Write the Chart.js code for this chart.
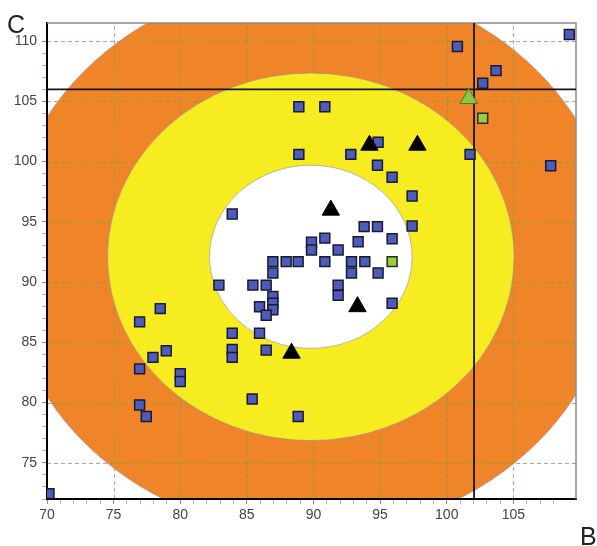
<!DOCTYPE html>
<html>
<head>
<meta charset="utf-8">
<script src="https://cdn.jsdelivr.net/npm/chart.js@4/dist/chart.umd.min.js"></script>
<style>
html,body{margin:0;padding:0;background:#ffffff;}
canvas{display:block;}
</style>
</head>
<body>
<canvas id="c" width="597" height="546"></canvas>
<script>
// ---- data ----
const blueX = [70.15,109.2,100.8,103.7,102.7,88.9,90.85,88.9,92.8,94.85,94.8,95.9,97.4,97.4,101.75,107.8,93.8,94.8,95.9,93.35,90.85,89.85,89.85,91.85,90.85,92.85,92.85,93.85,94.85,88.85,87.95,86.95,86.95,86.45,85.45,82.9,86.95,86.95,86.95,85.95,86.45,91.85,91.85,95.9,83.9,83.9,85.95,83.9,83.9,86.45,76.95,78.5,77.95,78.95,76.95,80.0,80.0,85.4,76.95,77.45,88.85];
const blueY = [72.45,110.55,109.55,107.55,106.5,104.55,104.55,100.6,100.6,101.6,99.7,98.7,97.15,94.65,100.6,99.65,94.6,94.6,93.6,93.35,93.65,93.3,92.66,92.66,91.7,91.7,90.75,91.7,90.75,91.7,91.7,91.7,90.75,89.75,89.75,89.75,88.8,88.25,87.7,87.95,87.25,89.75,88.9,88.25,95.65,85.75,85.75,84.4,83.75,84.35,86.7,87.8,83.75,84.3,82.8,82.4,81.75,80.3,79.8,78.85,78.85];
const greenSqX = [102.7, 95.9];
const greenSqY = [103.6, 91.7];
const triX = [94.2, 97.8, 91.3, 93.3, 88.35];
const triY = [101.36, 101.36, 95.97, 87.96, 84.1];
const greenTriX = [101.65];
const greenTriY = [105.23];

const zoneCenter = [89.8, 92.1];
const zoneRadii = [22.95, 15.25, 7.6];
const zoneColors = ['#f08429', '#f6ec1f', '#ffffff'];

const crossX = [102.05];
const crossY = [106];

const xRange = [70, 109.7];
const yRange = [72, 111.5];
const xTickLabels = [70, 75, 80, 85, 90, 95, 100, 105];
const yTickLabels = [75, 80, 85, 90, 95, 100, 105, 110];
const xAxisTitle = 'B';
const yAxisTitle = 'C';

const FONT = "'Liberation Sans', Arial, sans-serif";

function toPts(xs, ys){ return xs.map((v,i)=>({x:v, y:ys[i]})); }

const zonesPlugin = {
  id: 'zones',
  beforeDraw(chart){
    const {ctx, chartArea:a, scales:{x, y}} = chart;
    ctx.save();
    ctx.fillStyle = '#ffffff';
    ctx.fillRect(0, 0, chart.width, chart.height);
    ctx.beginPath();
    ctx.rect(a.left, a.top, a.right - a.left, a.bottom - a.top);
    ctx.clip();
    const cx = x.getPixelForValue(zoneCenter[0]);
    const cy = y.getPixelForValue(zoneCenter[1]);
    const ell = (r) => {
      const rx = Math.abs(x.getPixelForValue(zoneCenter[0] + r) - cx);
      const ry = Math.abs(y.getPixelForValue(zoneCenter[1] + r) - cy);
      ctx.beginPath();
      ctx.ellipse(cx, cy, rx, ry, 0, 0, Math.PI * 2);
    };
    const grid = (color) => {
      ctx.save();
      ctx.strokeStyle = color;
      ctx.lineWidth = 1;
      ctx.setLineDash([4, 3]);
      x.ticks.forEach(t => {
        if (xTickLabels.includes(t.value) && t.value !== xRange[0]) {
          const px = Math.round(x.getPixelForValue(t.value)) + 0.5;
          ctx.beginPath(); ctx.moveTo(px, a.bottom); ctx.lineTo(px, a.top); ctx.stroke();
        }
      });
      y.ticks.forEach(t => {
        if (yTickLabels.includes(t.value) && t.value !== yRange[0]) {
          const py = Math.round(y.getPixelForValue(t.value)) + 0.5;
          ctx.beginPath(); ctx.moveTo(a.left, py); ctx.lineTo(a.right, py); ctx.stroke();
        }
      });
      ctx.restore();
    };
    // outer zone
    ell(zoneRadii[0]);
    ctx.fillStyle = zoneColors[0];
    ctx.fill();
    ctx.strokeStyle = 'rgba(150,140,175,0.55)';
    ctx.lineWidth = 1;
    ctx.stroke();
    // grid lines: pinkish over white, olive over orange
    grid('#c49aa4');
    ctx.save();
    ell(zoneRadii[0]);
    ctx.clip();
    grid('#8e9f38');
    ctx.restore();
    // middle & inner zones
    for (let i = 1; i < zoneRadii.length; i++) {
      ell(zoneRadii[i]);
      ctx.fillStyle = zoneColors[i];
      ctx.fill();
      ctx.strokeStyle = 'rgba(150,140,175,0.6)';
      ctx.lineWidth = 1;
      ctx.stroke();
    }
    ctx.restore();
  },
  beforeDatasetsDraw(chart){
    const {ctx, chartArea:a, scales:{x, y}} = chart;
    ctx.save();
    // top / right frame
    ctx.strokeStyle = '#8c8c8c';
    ctx.lineWidth = 1.5;
    ctx.beginPath();
    ctx.moveTo(a.left, a.top); ctx.lineTo(a.right, a.top); ctx.lineTo(a.right, a.bottom);
    ctx.stroke();
    // crosshair
    ctx.strokeStyle = '#151515';
    ctx.lineWidth = 1.8;
    crossX.forEach(v => {
      const px = x.getPixelForValue(v);
      ctx.beginPath(); ctx.moveTo(px, a.top); ctx.lineTo(px, a.bottom); ctx.stroke();
    });
    crossY.forEach(v => {
      const py = y.getPixelForValue(v);
      ctx.beginPath(); ctx.moveTo(a.left, py); ctx.lineTo(a.right, py); ctx.stroke();
    });
    ctx.restore();
  },
  afterDraw(chart){
    const {ctx} = chart;
    ctx.save();
    ctx.fillStyle = '#222222';
    ctx.font = '25px ' + FONT;
    ctx.textBaseline = 'alphabetic';
    ctx.textAlign = 'left';
    ctx.fillText(yAxisTitle, 7, 33);
    ctx.fillText(xAxisTitle, 580, 545);
    ctx.restore();
  }
};

const tickColor = (c) => {
  const v = c.tick ? c.tick.value : null;
  if (v === null || Math.abs(v - Math.round(v)) > 1e-6) return 'rgba(0,0,0,0)';
  return (v % 5 === 0) ? '#a07f86' : '#c9aab0';
};

new Chart(document.getElementById('c'), {
  type: 'scatter',
  data: {
    datasets: [
      { label: 'tri', data: toPts(triX, triY), pointStyle: 'triangle', pointRadius: 10, backgroundColor: '#000000', borderColor: '#000000', borderWidth: 1, order: 0 },
      { label: 'greenTri', data: toPts(greenTriX, greenTriY), pointStyle: 'triangle', pointRadius: 10, backgroundColor: '#8cc640', borderColor: '#4b7a22', borderWidth: 1, order: 0 },
      { label: 'greenSq', data: toPts(greenSqX, greenSqY), pointStyle: 'rect', pointRadius: 7, backgroundColor: '#9bcb45', borderColor: '#22301a', borderWidth: 1.5, order: 1 },
      { label: 'blue', data: toPts(blueX, blueY), pointStyle: 'rect', pointRadius: 7, backgroundColor: '#4d5cb8', borderColor: '#191933', borderWidth: 1.5, order: 2 }
    ]
  },
  options: {
    responsive: false,
    animation: false,
    devicePixelRatio: 1,
    layout: { padding: { left: 0, top: 23, right: 21, bottom: 0 } },
    plugins: { legend: { display: false }, tooltip: { enabled: false } },
    elements: { point: { hoverRadius: 7 } },
    datasets: { scatter: { clip: 0 } },
    scales: {
      x: {
        type: 'linear', min: xRange[0], max: xRange[1],
        ticks: { stepSize: 1, autoSkip: false, maxRotation: 0, padding: 3, color: '#444444', font: { size: 14, family: FONT },
          callback: (v) => xTickLabels.includes(v) ? String(v) : '' },
        grid: { drawOnChartArea: false, drawTicks: true, tickLength: 5, tickColor: tickColor, tickWidth: 1 },
        border: { color: '#000000', width: 2 },
        afterFit: (s) => { s.height = 47; }
      },
      y: {
        type: 'linear', min: yRange[0], max: yRange[1],
        ticks: { stepSize: 1, autoSkip: false, padding: 5, color: '#444444', font: { size: 14, family: FONT },
          callback: (v) => yTickLabels.includes(v) ? String(v) : '' },
        grid: { drawOnChartArea: false, drawTicks: true, tickLength: 5, tickColor: tickColor, tickWidth: 1 },
        border: { color: '#000000', width: 2 },
        afterFit: (s) => { s.width = 47; }
      }
    }
  },
  plugins: [zonesPlugin]
});
</script>
</body>
</html>
